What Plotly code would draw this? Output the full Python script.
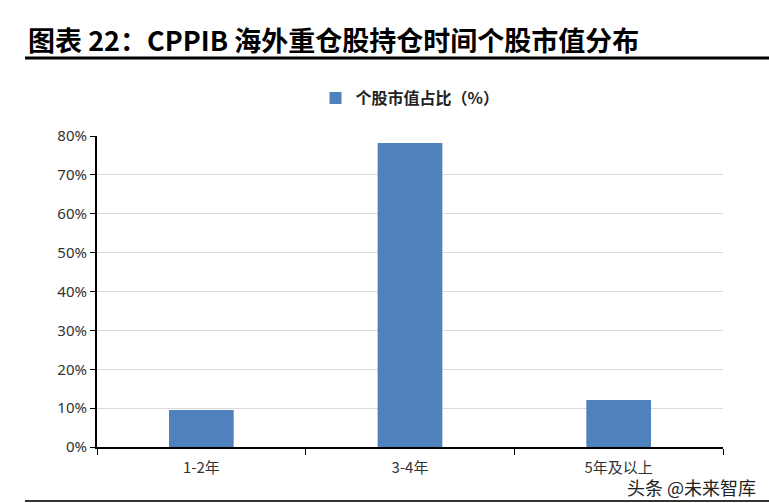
import plotly.graph_objects as go

categories = ["1-2年", "3-4年", "5年及以上"]
values = [9.5, 78.2, 12.1]
series_name = "<b>个股市值占比（%）</b>"
title_text = "图表 22：CPPIB 海外重仓股持仓时间个股市值分布"
y_ticks = [0, 10, 20, 30, 40, 50, 60, 70, 80]

fig = go.Figure()
fig.add_trace(go.Bar(
    x=categories, y=values, name=series_name,
    marker=dict(color="#4F81BD", line=dict(width=0)),
    width=0.31, showlegend=True,
))

fig.update_layout(
    width=769, height=503,
    margin=dict(l=97, r=46, t=136, b=56),
    paper_bgcolor="white", plot_bgcolor="white",
    font=dict(family="Noto Sans CJK SC, sans-serif", color="#333333"),
    showlegend=True,
    legend=dict(orientation="h", x=0.5, xanchor="center", y=(447 - 98) / 311, yanchor="middle",
                font=dict(size=16, color="#222222", family="Noto Sans CJK SC"),
                itemwidth=30, bgcolor="rgba(0,0,0,0)"),
    bargap=0.69,
)

fig.update_yaxes(
    range=[0, 80], tickvals=y_ticks, ticktext=[f"{v}%" for v in y_ticks],
    showgrid=True, gridcolor="#D9D9D9", gridwidth=1,
    showline=True, linecolor="#000000", linewidth=2,
    ticks="outside", ticklen=5, tickcolor="#000000", tickwidth=1,
    tickfont=dict(size=15, color="#333333", family="Noto Sans, sans-serif"),
    zeroline=False, fixedrange=True,
)
fig.update_xaxes(
    showline=True, linecolor="#000000", linewidth=2,
    ticks="outside", ticklen=6, tickcolor="#000000", tickwidth=1,
    tickson="boundaries", ticklabelstandoff=6,
    tickfont=dict(size=15, color="#333333", family="Noto Sans CJK SC"),
    showgrid=False,
)

# Title
fig.add_annotation(
    text="<b>" + title_text + "</b>", xref="paper", yref="paper",
    x=(26 - 97) / 626, y=(503 - 56 - 40) / 311, xanchor="left", yanchor="middle",
    showarrow=False, font=dict(size=27, color="#000000", family="Noto Sans CJK SC"),
)
# Title underline and bottom rule
fig.add_shape(type="line", xref="paper", yref="paper",
              x0=(25 - 97) / 626, x1=(769 - 97) / 626,
              y0=(503 - 56 - 58) / 311, y1=(503 - 56 - 58) / 311,
              line=dict(color="#000000", width=3))
fig.add_shape(type="line", xref="paper", yref="paper",
              x0=(25 - 97) / 626, x1=(769 - 97) / 626,
              y0=(503 - 56 - 501) / 311, y1=(503 - 56 - 501) / 311,
              line=dict(color="#333333", width=2))
# Watermark
fig.add_annotation(
    text="头条 @未来智库", xref="paper", yref="paper",
    x=(758 - 97) / 626, y=(503 - 56 - 487) / 311, xanchor="right", yanchor="middle",
    showarrow=False, font=dict(size=18, color="#222222", family="Noto Sans CJK SC"),
)

fig.write_html("out.html")
